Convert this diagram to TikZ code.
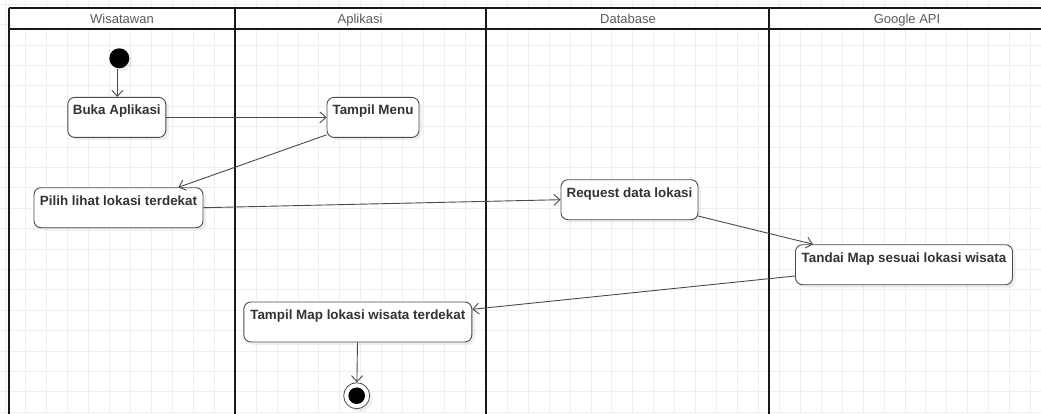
\documentclass[tikz,border=0pt]{standalone}
\usepackage{fontspec}
\setmainfont{Liberation Sans}
\usepackage{tikz}
\usetikzlibrary{arrows.meta, shadows, calc}
\definecolor{ink}{HTML}{333333}
\definecolor{edgegray}{HTML}{4A4A4A}
\definecolor{headgray}{HTML}{5A5A5A}
\definecolor{gridgray}{HTML}{EEEEEE}
\tikzset{
  action/.style={rectangle, rounded corners=7pt, draw=edgegray, line width=0.9pt,
                 fill=white, text=ink, font=\fontsize{13.4}{15}\selectfont\bfseries,
                 inner xsep=5pt, inner ysep=3pt, text height=14.5pt, text depth=19.5pt,
                 drop shadow={shadow xshift=3pt, shadow yshift=-3pt, opacity=0.12}},
  startnode/.style={circle, fill=black, minimum size=20pt, inner sep=0pt,
                    drop shadow={shadow xshift=3pt, shadow yshift=-3pt, opacity=0.12}},
  endnode/.style={circle, draw=edgegray, line width=0.8pt, fill=white,
                  minimum size=26pt, inner sep=0pt,
                  path picture={\fill[black] (path picture bounding box.center) circle (8.3pt);},
                  drop shadow={shadow xshift=3pt, shadow yshift=-3pt, opacity=0.12}},
  lanehead/.style={font=\fontsize{13}{15}\selectfont, text=headgray, anchor=base},
  lane/.style={line width=2pt, draw=black!90},
  gridline/.style={draw=gridgray, line width=1pt},
  arrow/.style={-{Straight Barb[length=6pt, width=11pt]}, line width=0.9pt, draw=edgegray},
}

\begin{document}
\begin{tikzpicture}[x=1pt, y=-1pt]
  \useasboundingbox (0,0) rectangle (1041,413);
  \clip (0,0) rectangle (1041,413);
  \fill[white] (0,0) rectangle (1041,413);

  % background grid
  \foreach \gx in {0,...,50}
    \draw[gridline] ({5+20.93*\gx},0) -- ({5+20.93*\gx},413);
  \foreach \gy in {0,...,20}
    \draw[gridline] (0,{4.2+20.4*\gy}) -- (1041,{4.2+20.4*\gy});

  % swimlanes
  \fill[white] (9,7.5) rectangle (1045,29.3);
  \draw[lane] (9,7.5) -- (1045,7.5);
  \draw[lane] (9,29.3) -- (1045,29.3);
  \foreach \lx in {9,235,485.7,769.3}
    \draw[lane] (\lx,7.5) -- (\lx,420);
  \node[lanehead] (hWisatawan) at (122,23.5) {Wisatawan};
  \node[lanehead] (hAplikasi) at (360,23.5) {Aplikasi};
  \node[lanehead] (hDatabase) at (628,23.5) {Database};
  \node[lanehead] (hGoogle) at (907,23.5) {Google API};

  \node[startnode] (start) at (119.3,58.3) {};
  \node[action, minimum width=98pt] (buka) at (116.8,117.4) {Buka Aplikasi};
  \node[action, minimum width=92pt] (menu) at (373,117.4) {Tampil Menu};
  \node[action, minimum width=169pt] (pilih) at (118.5,207.7) {Pilih lihat lokasi terdekat};
  \node[action, minimum width=137pt] (request) at (629.5,199.7) {Request data lokasi};
  \node[action, minimum width=217pt] (tandai) at (904,264.7) {Tandai Map sesuai lokasi wisata};
  \node[action, minimum width=228pt] (tampilmap) at (357.8,322) {Tampil Map lokasi wisata terdekat};
  \node[endnode] (finish) at (356.7,395.7) {};

  \draw[arrow] ([xshift=-2pt]start.south) -- ([xshift=-2pt]start.south |- buka.north);
  \draw[arrow] (buka) -- (menu);
  \draw[arrow] ([yshift=3pt]menu.south west) -- ([xshift=-25pt]pilih.north east);
  \draw[arrow] (pilih.east) -- (request.west);
  \draw[arrow] ([yshift=4pt]request.south east) -- ([xshift=18pt]tandai.north west);
  \draw[arrow] ([yshift=-11.3pt]tandai.west) -- ([yshift=12.7pt]tampilmap.east);
  \draw[arrow] (tampilmap) -- (finish);
\end{tikzpicture}
\end{document}
